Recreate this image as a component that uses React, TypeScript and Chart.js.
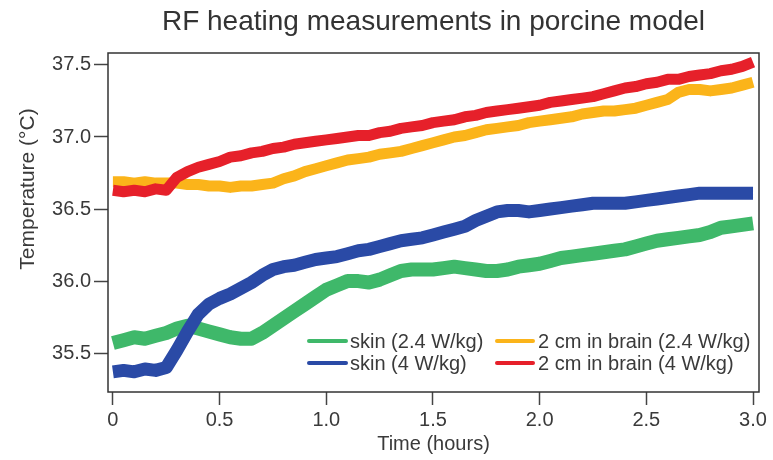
import { useEffect, useRef } from 'react';
import { Chart, registerables } from 'chart.js';

Chart.register(...registerables);

const TIME_H = [
  0, 0.05, 0.1, 0.15, 0.2, 0.25, 0.3, 0.35, 0.4, 0.45,
  0.5, 0.55, 0.6, 0.65, 0.7, 0.75, 0.8, 0.85, 0.9, 0.95,
  1.0, 1.05, 1.1, 1.15, 1.2, 1.25, 1.3, 1.35, 1.4, 1.45,
  1.5, 1.55, 1.6, 1.65, 1.7, 1.75, 1.8, 1.85, 1.9, 1.95,
  2.0, 2.05, 2.1, 2.15, 2.2, 2.25, 2.3, 2.35, 2.4, 2.45,
  2.5, 2.55, 2.6, 2.65, 2.7, 2.75, 2.8, 2.85, 2.9, 2.95, 3.0,
];

const SKIN_24 = [
  35.57, 35.59, 35.61, 35.60, 35.62, 35.64, 35.67, 35.69, 35.67, 35.65,
  35.63, 35.61, 35.60, 35.60, 35.64, 35.69, 35.74, 35.79, 35.84, 35.89,
  35.94, 35.97, 36.00, 36.00, 35.99, 36.01, 36.04, 36.07, 36.08, 36.08,
  36.08, 36.09, 36.10, 36.09, 36.08, 36.07, 36.07, 36.08, 36.10, 36.11,
  36.12, 36.14, 36.16, 36.17, 36.18, 36.19, 36.20, 36.21, 36.22, 36.24,
  36.26, 36.28, 36.29, 36.30, 36.31, 36.32, 36.34, 36.37, 36.38, 36.39, 36.40,
];

const SKIN_4 = [
  35.37, 35.38, 35.37, 35.39, 35.38, 35.40, 35.52, 35.65, 35.77, 35.84,
  35.88, 35.91, 35.95, 35.99, 36.04, 36.08, 36.10, 36.11, 36.13, 36.15,
  36.16, 36.17, 36.19, 36.21, 36.22, 36.24, 36.26, 36.28, 36.29, 36.30,
  36.32, 36.34, 36.36, 36.38, 36.42, 36.45, 36.48, 36.49, 36.49, 36.48,
  36.49, 36.50, 36.51, 36.52, 36.53, 36.54, 36.54, 36.54, 36.54, 36.55,
  36.56, 36.57, 36.58, 36.59, 36.60, 36.61, 36.61, 36.61, 36.61, 36.61, 36.61,
];

const BRAIN_24 = [
  36.69, 36.69, 36.68, 36.69, 36.68, 36.68, 36.68, 36.67, 36.67, 36.66,
  36.66, 36.65, 36.66, 36.66, 36.67, 36.68, 36.71, 36.73, 36.76, 36.78,
  36.80, 36.82, 36.84, 36.85, 36.86, 36.88, 36.89, 36.90, 36.92, 36.94,
  36.96, 36.98, 37.00, 37.01, 37.03, 37.05, 37.06, 37.07, 37.08, 37.10,
  37.11, 37.12, 37.13, 37.14, 37.16, 37.17, 37.18, 37.18, 37.19, 37.20,
  37.22, 37.24, 37.26, 37.31, 37.33, 37.33, 37.32, 37.33, 37.34, 37.36, 37.38,
];

const BRAIN_4 = [
  36.63, 36.62, 36.63, 36.62, 36.64, 36.63, 36.72, 36.76, 36.79, 36.81,
  36.83, 36.86, 36.87, 36.89, 36.90, 36.92, 36.93, 36.95, 36.96, 36.97,
  36.98, 36.99, 37.00, 37.01, 37.01, 37.03, 37.04, 37.06, 37.07, 37.08,
  37.10, 37.11, 37.12, 37.14, 37.15, 37.17, 37.18, 37.19, 37.20, 37.21,
  37.22, 37.24, 37.25, 37.26, 37.27, 37.28, 37.30, 37.32, 37.34, 37.35,
  37.37, 37.38, 37.40, 37.40, 37.42, 37.43, 37.44, 37.46, 37.47, 37.49, 37.52,
];

const SERIES_LABELS = [
  'skin (2.4 W/kg)',
  'skin (4 W/kg)',
  '2 cm in brain (2.4 W/kg)',
  '2 cm in brain (4 W/kg)',
];
const SERIES_COLORS = ['#3fb86a', '#2a4aa6', '#fbb41a', '#e6202a'];

const TITLE = 'RF heating measurements in porcine model';
const X_TITLE = 'Time (hours)';
const Y_TITLE = 'Temperature (°C)';

const X_TICKS = [0, 0.5, 1.0, 1.5, 2.0, 2.5, 3.0];
const Y_TICKS = [35.5, 36.0, 36.5, 37.0, 37.5];

const FONT = '"Liberation Sans", Arial, Helvetica, sans-serif';
const TEXT = '#3a3a3a';

const toPoints = (ys: number[]) => TIME_H.map((t, i) => ({ x: t, y: ys[i] }));

const framePlugin = {
  id: 'frame',
  afterDatasetsDraw(chart: any) {
    const { ctx, chartArea } = chart;
    ctx.save();
    ctx.strokeStyle = '#333';
    ctx.lineWidth = 1.5;
    ctx.strokeRect(chartArea.left, chartArea.top, chartArea.right - chartArea.left, chartArea.bottom - chartArea.top);
    ctx.restore();
  },
};

const textPlugin = {
  id: 'titles',
  afterDraw(chart: any) {
    const { ctx, chartArea } = chart;
    ctx.save();
    ctx.fillStyle = '#333';
    ctx.font = `28px ${FONT}`;
    ctx.textAlign = 'center';
    ctx.textBaseline = 'middle';
    ctx.fillText(TITLE, (chartArea.left + chartArea.right) / 2, 22);
    ctx.fillStyle = TEXT;
    ctx.font = `21px ${FONT}`;
    ctx.translate(28, 189);
    ctx.rotate(-Math.PI / 2);
    ctx.fillText(Y_TITLE, 0, 0);
    ctx.restore();
  },
};

const legendPlugin = {
  id: 'insideLegend',
  afterDatasetsDraw(chart: any) {
    const { ctx, chartArea } = chart;
    const ds = chart.data.datasets;
    const cols = [
      { lineX: chartArea.left + 201, lineLen: 37, textGap: 4 },
      { lineX: chartArea.left + 389, lineLen: 36, textGap: 5 },
    ];
    const rows = [chartArea.bottom - 51, chartArea.bottom - 29];
    const layout = [
      { i: 0, c: 0, r: 0 },
      { i: 1, c: 0, r: 1 },
      { i: 2, c: 1, r: 0 },
      { i: 3, c: 1, r: 1 },
    ];
    ctx.save();
    ctx.font = `20px ${FONT}`;
    ctx.textBaseline = 'middle';
    ctx.textAlign = 'left';
    layout.forEach(({ i, c, r }) => {
      const col = cols[c];
      const y = rows[r];
      ctx.strokeStyle = ds[i].borderColor;
      ctx.lineWidth = 4;
      ctx.lineCap = 'round';
      ctx.beginPath();
      ctx.moveTo(col.lineX, y);
      ctx.lineTo(col.lineX + col.lineLen, y);
      ctx.stroke();
      ctx.fillStyle = TEXT;
      ctx.fillText(ds[i].label, col.lineX + col.lineLen + col.textGap, y + 1);
    });
    ctx.restore();
  },
};

export default function App() {
  const ref = useRef<HTMLCanvasElement | null>(null);

  useEffect(() => {
    if (!ref.current) return;
    const series = [SKIN_24, SKIN_4, BRAIN_24, BRAIN_4];
    const widths = [14, 13, 11, 11];
    const orders = [4, 3, 2, 1];
    const chart = new Chart(ref.current, {
      type: 'line',
      data: {
        datasets: series.map((ys, i) => ({
          label: SERIES_LABELS[i],
          data: toPoints(ys),
          borderColor: SERIES_COLORS[i],
          backgroundColor: SERIES_COLORS[i],
          borderWidth: widths[i],
          pointRadius: 0,
          tension: 0,
          fill: false,
          order: orders[i],
          borderJoinStyle: 'round',
        })),
      },
      options: {
        responsive: false,
        animation: false,
        layout: { padding: { left: 0, right: 14, top: 53, bottom: 0 } },
        plugins: {
          legend: { display: false },
          tooltip: { enabled: false },
          title: { display: false },
        },
        scales: {
          x: {
            type: 'linear',
            min: -0.023,
            max: 3.028,
            afterBuildTicks: (s: any) => {
              s.ticks = X_TICKS.map((v) => ({ value: v }));
            },
            afterFit: (s: any) => {
              s.height = 68;
            },
            border: { display: false },
            grid: {
              display: true,
              drawOnChartArea: false,
              drawTicks: true,
              tickLength: 13,
              tickWidth: 1.5,
              tickColor: '#444',
            },
            ticks: {
              color: TEXT,
              padding: 3,
              maxRotation: 0,
              autoSkip: false,
              font: { family: FONT, size: 20 },
              callback: (v: any) => (Number(v) === 0 ? '0' : Number(v).toFixed(1)),
            },
            title: {
              display: true,
              text: X_TITLE,
              color: TEXT,
              font: { family: FONT, size: 20, lineHeight: 1.2 },
              padding: { top: 0, bottom: 4 },
            },
          },
          y: {
            type: 'linear',
            min: 35.23,
            max: 37.583,
            afterBuildTicks: (s: any) => {
              s.ticks = Y_TICKS.map((v) => ({ value: v }));
            },
            afterFit: (s: any) => {
              s.width = 108;
            },
            border: { display: false },
            grid: {
              display: true,
              drawOnChartArea: false,
              drawTicks: true,
              tickLength: 14,
              tickWidth: 1.5,
              tickColor: '#444',
            },
            ticks: {
              color: TEXT,
              padding: 3,
              autoSkip: false,
              font: { family: FONT, size: 20 },
              callback: (v: any) => Number(v).toFixed(1),
            },
            title: { display: false },
          },
        },
      },
      plugins: [framePlugin, legendPlugin, textPlugin],
    } as any);
    return () => chart.destroy();
  }, []);

  return (
    <div style={{ position: 'fixed', left: 0, top: 0, width: 773, height: 460, background: '#fff' }}>
      <canvas ref={ref} width={773} height={460} style={{ display: 'block' }} />
    </div>
  );
}
